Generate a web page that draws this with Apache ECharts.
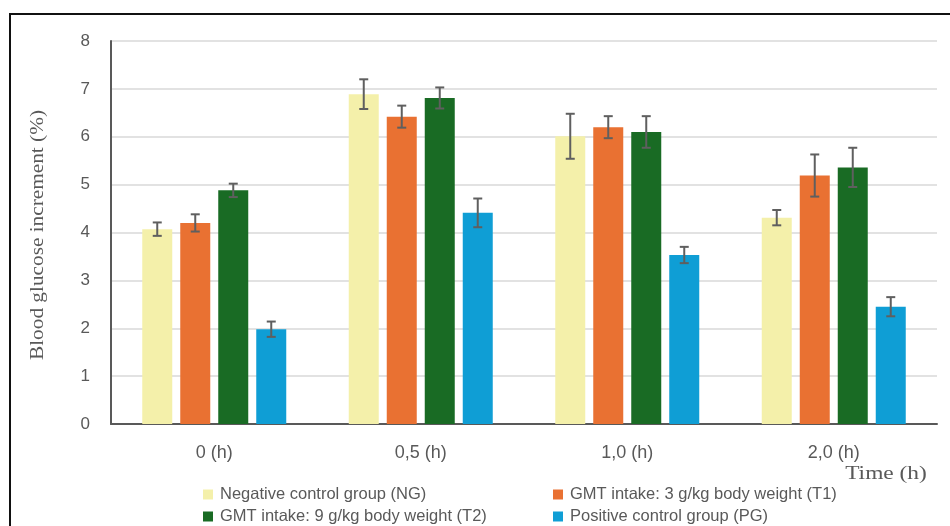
<!DOCTYPE html>
<html>
<head>
<meta charset="utf-8">
<script src="https://cdn.jsdelivr.net/npm/echarts@6/dist/echarts.min.js"></script>
<style>
  html, body { margin: 0; padding: 0; background: #fff; }
  #chart { width: 950px; height: 526px; }
</style>
</head>
<body>
<div id="chart"></div>
<script>
// Time points (x categories)
const categories = ['0 (h)', '0,5 (h)', '1,0 (h)', '2,0 (h)'];

// Group names
const seriesNames = [
  'Negative control group (NG)',
  'GMT intake: 3 g/kg body weight (T1)',
  'GMT intake: 9 g/kg body weight (T2)',
  'Positive control group (PG)'
];

// Mean blood glucose increment (%) per group
const meanNG = [4.07, 6.89, 6.01, 4.31];
const meanT1 = [4.20, 6.42, 6.20, 5.19];
const meanT2 = [4.88, 6.81, 6.10, 5.36];
const meanPG = [1.98, 4.41, 3.53, 2.45];

// Standard deviation per group
const errNG = [0.14, 0.31, 0.47, 0.16];
const errT1 = [0.18, 0.23, 0.23, 0.44];
const errT2 = [0.14, 0.22, 0.33, 0.41];
const errPG = [0.16, 0.30, 0.17, 0.20];

// Y axis range
const yMin = 0, yMax = 8, yStep = 1;

const colors = ['#F4F0AA', '#E97132', '#196B24', '#0F9ED5'];
const means = [meanNG, meanT1, meanT2, meanPG];
const errs = [errNG, errT1, errT2, errPG];

const chart = echarts.init(document.getElementById('chart'), null, { renderer: 'canvas' });

const barWidth = 30;
const barGapPx = 8;

const barSeries = means.map((m, i) => ({
  name: seriesNames[i],
  type: 'bar',
  data: m,
  barWidth: barWidth,
  barGap: (barGapPx / barWidth * 100) + '%',
  itemStyle: { color: colors[i] },
  z: 2
}));

// Whiskers drawn on top of each bar, offset like the grouped bars
const errorSeries = means.map((m, i) => ({
  type: 'custom',
  name: seriesNames[i] + ' err',
  data: m.map((v, k) => [k, v - errs[i][k], v + errs[i][k]]),
  z: 5,
  silent: true,
  renderItem: function (params, api) {
    const k = api.value(0);
    const lo = api.coord([k, api.value(1)]);
    const hi = api.coord([k, api.value(2)]);
    const n = means.length;
    const groupW = n * barWidth + (n - 1) * barGapPx;
    const x = lo[0] - groupW / 2 + i * (barWidth + barGapPx) + barWidth / 2;
    const cap = 4.5;
    const style = { stroke: '#5f5f5f', lineWidth: 2 };
    return {
      type: 'group',
      children: [
        { type: 'line', shape: { x1: x, y1: lo[1], x2: x, y2: hi[1] }, style },
        { type: 'line', shape: { x1: x - cap, y1: hi[1], x2: x + cap, y2: hi[1] }, style },
        { type: 'line', shape: { x1: x - cap, y1: lo[1], x2: x + cap, y2: lo[1] }, style }
      ]
    };
  }
}));

// One legend per entry, laid out in two columns
const legendPos = [
  { left: 198, top: 481 },
  { left: 548, top: 481 },
  { left: 198, top: 503 },
  { left: 548, top: 503 }
];
const legends = seriesNames.map((name, i) => ({
  data: [name],
  left: legendPos[i].left,
  top: legendPos[i].top,
  orient: 'horizontal',
  itemWidth: 10,
  itemHeight: 10,
  itemGap: 4,
  icon: 'rect',
  selectedMode: false,
  textStyle: { color: '#595959', fontSize: 16.5, fontFamily: 'Liberation Sans, Arial', padding: [0, 0, 0, 2] }
}));

chart.setOption({
  animation: false,
  backgroundColor: '#ffffff',
  color: colors,
  grid: { left: 111, right: 13, top: 41, bottom: 102, containLabel: false },
  legend: legends,
  xAxis: {
    type: 'category',
    data: categories,
    axisLine: { show: true, lineStyle: { color: '#595959', width: 2 } },
    axisTick: { show: false },
    axisLabel: { color: '#595959', fontSize: 18, margin: 20, fontFamily: 'Liberation Sans, Arial' },
    splitLine: { show: false }
  },
  yAxis: {
    type: 'value',
    min: yMin,
    max: yMax,
    interval: yStep,
    axisLine: { show: true, lineStyle: { color: '#595959', width: 2 } },
    axisTick: { show: false },
    axisLabel: { color: '#595959', fontSize: 17, margin: 21, fontFamily: 'Liberation Sans, Arial' },
    splitLine: { show: true, lineStyle: { color: '#d9d9d9', width: 1.5 } }
  },
  graphic: [
    // outer frame (left and top edges)
    { type: 'line', shape: { x1: 10, y1: 14, x2: 10, y2: 526 }, style: { stroke: '#111', lineWidth: 2 }, z: 10 },
    { type: 'line', shape: { x1: 9, y1: 14, x2: 950, y2: 14 }, style: { stroke: '#111', lineWidth: 2 }, z: 10 },
    // value axis title
    {
      type: 'text', x: 38, y: 235, rotation: Math.PI / 2, scaleX: 1.12, z: 10,
      style: {
        text: 'Blood glucose increment (%)', fill: '#595959', fontSize: 19,
        fontFamily: 'Liberation Serif, Times New Roman, serif', align: 'center', verticalAlign: 'middle'
      }
    },
    // category axis title
    {
      type: 'text', x: 886, y: 474, scaleX: 1.3, z: 10,
      style: {
        text: 'Time (h)', fill: '#595959', fontSize: 18,
        fontFamily: 'Liberation Serif, Times New Roman, serif', align: 'center', verticalAlign: 'middle'
      }
    }
  ],
  series: barSeries.concat(errorSeries)
});
</script>
</body>
</html>
